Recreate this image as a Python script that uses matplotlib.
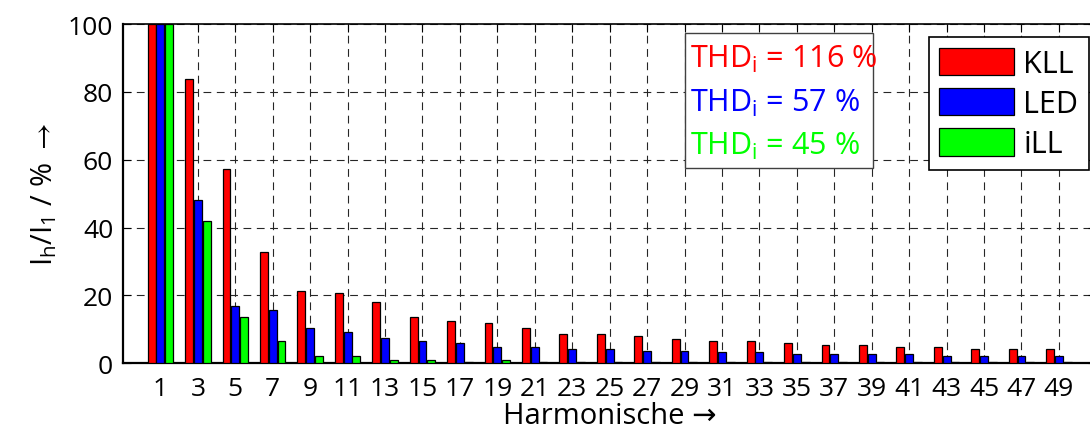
import matplotlib
matplotlib.use('Agg')
import matplotlib.pyplot as plt
import numpy as np
from matplotlib.patches import Rectangle

plt.rcParams['font.family'] = ['Open Sans', 'DejaVu Sans']
plt.rcParams['mathtext.fontset'] = 'custom'
plt.rcParams['mathtext.rm'] = 'Open Sans'
plt.rcParams['mathtext.it'] = 'Open Sans'
plt.rcParams['mathtext.fallback'] = 'stixsans'

# harmonic orders and relative current I_h/I_1 in %
harmonics = list(range(1, 50, 2))
kll = [100, 83.7, 57.3, 32.7, 21.2, 20.6, 18.0, 13.6, 12.5, 11.9, 10.3, 8.6, 8.6,
       8.0, 7.1, 6.5, 6.5, 5.9, 5.4, 5.4, 4.8, 4.8, 4.2, 4.2, 4.2]
led = [100, 48.0, 16.8, 15.8, 10.3, 9.2, 7.5, 6.5, 5.9, 4.7, 4.7, 4.2, 4.2,
       3.7, 3.7, 3.2, 3.2, 2.6, 2.6, 2.6, 2.6, 2.1, 2.1, 2.1, 2.1]
ill = [100, 42.0, 13.6, 6.5, 2.1, 2.1, 1.1, 1.0, 0.5, 1.0, 0.5, 0.5, 0.5,
       0.5, 0.5, 0.5, 0.5, 0.5, 0.5, 0.5, 0.5, 0.5, 0.5, 0.5, 0.5]
names = ['KLL', 'LED', 'iLL']
thd = [116, 57, 45]
colors = ['#ff0000', '#0000ff', '#00ff00']

fig = plt.figure(figsize=(10.9, 4.35), dpi=100)
ax = fig.add_axes([0.1128, 0.1625, 0.893, 0.78])

x = np.arange(1, len(harmonics) + 1)
w = 0.21
for k, (vals, c, n) in enumerate(zip([kll, led, ill], colors, names)):
    ax.bar(x + (k - 1) * 0.235, vals, w, color=c, edgecolor='black',
           linewidth=0.9, label=n, zorder=3)

ax.set_xlim(0, 26)
ax.set_ylim(0, 100)
ax.set_xticks(x)
ax.set_xticklabels([str(h) for h in harmonics])
ax.set_yticks([0, 20, 40, 60, 80, 100])
ax.tick_params(direction='in', length=6, width=0.8, top=True, right=True,
               labelsize=19, colors='black')
ax.tick_params(axis='x', pad=9)
ax.tick_params(axis='y', pad=7)
ax.grid(True, color='0.15', linestyle=(0, (7, 5)), linewidth=0.8, zorder=1)
ax.set_axisbelow(True)
for s in ['left', 'bottom']:
    ax.spines[s].set_linewidth(1.6)
ax.spines['top'].set_linewidth(1.2)

ax.set_xlabel('Harmonische \u2192', fontsize=21, labelpad=0)
ax.set_ylabel(r'I$_\mathregular{h}$/I$_\mathregular{1}$ / % $\rightarrow$',
              fontsize=21, labelpad=6)

# THD box
ax.add_patch(Rectangle((15.0, 57.6), 5.04, 39.7, facecolor='white',
                       edgecolor='0.25', linewidth=1.0, zorder=5))
for k, (t, c) in enumerate(zip(thd, colors)):
    ax.text(15.15, 87.3 - 12.8 * k, r'THD$_\mathregular{i}$ = %d %%' % t,
            color=c, fontsize=22, va='baseline', zorder=6)

leg = ax.legend(loc='upper right', bbox_to_anchor=(1089 / 1090, 1 - 38 / 435),
                bbox_transform=fig.transFigure, borderaxespad=0, fontsize=22,
                fancybox=False, framealpha=1, edgecolor='black',
                handlelength=2.45, handleheight=1.0, handletextpad=0.3,
                labelspacing=0.3, borderpad=0.35)
leg.get_frame().set_linewidth(1.2)
leg.set_zorder(6)

fig.savefig('out.png', dpi=100)
